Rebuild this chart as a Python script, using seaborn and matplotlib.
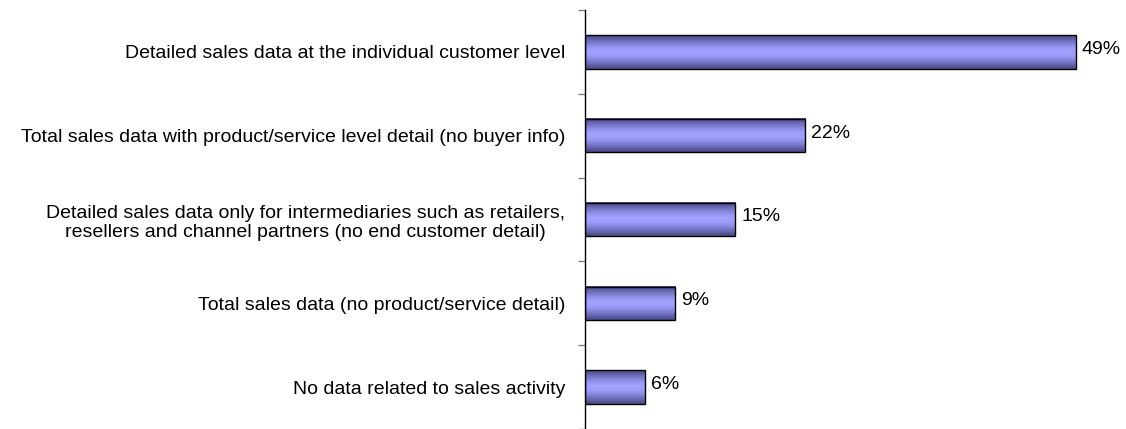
import numpy as np
import pandas as pd
import matplotlib
matplotlib.use("Agg")
import matplotlib.pyplot as plt
import seaborn as sns
from matplotlib.colors import to_rgb

categories = [
    "Detailed sales data at the individual customer level",
    "Total sales data with product/service level detail (no buyer info)",
    "Detailed sales data only for intermediaries such as retailers,\nresellers and channel partners (no end customer detail)",
    "Total sales data (no product/service detail)",
    "No data related to sales activity",
]
values = [49, 22, 15, 9, 6]
value_labels = ["49%", "22%", "15%", "9%", "6%"]

sns.set_theme(style="white")
plt.rcParams['font.family'] = ['Liberation Sans', 'DejaVu Sans']

fig = plt.figure(figsize=(11.26, 4.29), dpi=100)
ax = fig.add_axes([585/1126, 0.0, 1 - 585/1126, 419/429])

df = pd.DataFrame({"cat": categories, "val": values})
sns.barplot(data=df, y="cat", x="val", orient="h", ax=ax, width=0.4,
            color="#9999ff", edgecolor="black", linewidth=1.0, saturation=1)

# gradient fill (dark edges, light centre)
dark = np.array(to_rgb("#4c4c8c"))
light = np.array(to_rgb("#a0a0ff"))
t = np.linspace(0, 1, 64)
prof = np.sin(np.pi * t) ** 1.3
img = dark[None, :] + (light - dark)[None, :] * prof[:, None]
img = np.repeat(img.reshape(-1, 1, 3), 2, axis=1)
for p in list(ax.patches):
    x0, y0 = p.get_x(), p.get_y()
    w, h = p.get_width(), p.get_height()
    ax.imshow(img, aspect="auto", extent=[x0, x0 + w, y0 + h, y0],
              origin="upper", zorder=2.5, interpolation="bilinear")
    p.set_facecolor("none")
    p.set_zorder(3)
ax.set_xlim(0, 54)
ax.set_ylim(4.5, -0.5)

for i, (v, lab) in enumerate(zip(values, value_labels)):
    ax.text(v + 0.6, i - 0.03, lab, va="center", ha="left", fontsize=14, color="black")

ax.set_xlabel("")
ax.set_ylabel("")
ax.set_xticks([])
for s in ["top", "right", "bottom"]:
    ax.spines[s].set_visible(False)
ax.spines["left"].set_color("black")
ax.spines["left"].set_linewidth(1.0)

ax.tick_params(axis="y", which="major", length=0, pad=14.4, labelsize=14, colors="black")
ax.set_yticks(np.arange(-0.5, 5.0, 1.0), minor=True)
ax.tick_params(axis="y", which="minor", length=5, width=1, color="#808080", left=True)
for lab in ax.get_yticklabels():
    lab.set_multialignment("center")

fig.savefig("out.png", dpi=100)
